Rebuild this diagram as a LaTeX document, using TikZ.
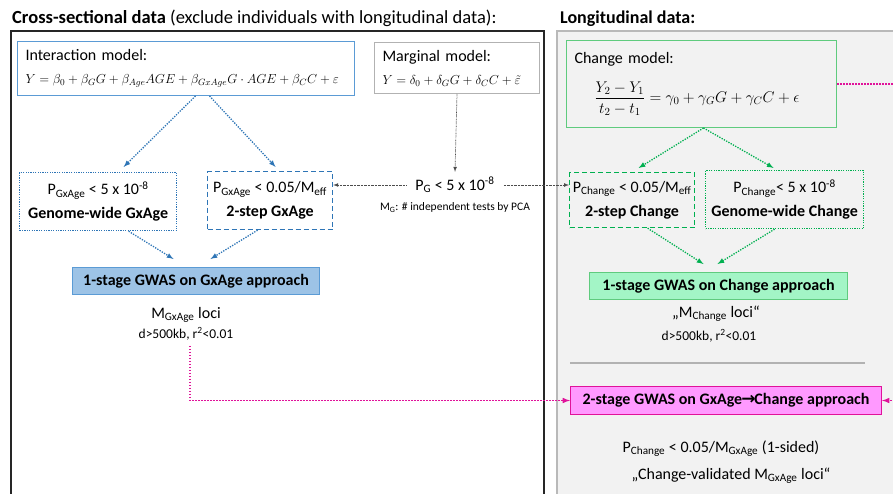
\RequirePackage{fix-cm}
\documentclass[tikz,border=0pt]{standalone}
\usepackage{amsmath}
\usepackage[no-math]{fontspec}
\setmainfont{Carlito}
\newfontfamily\arrowfont{DejaVu Sans}

\definecolor{gxblue}{HTML}{2E75B6}
\definecolor{gxline}{HTML}{5B9BD5}
\definecolor{gxfill}{HTML}{9DC3E6}
\definecolor{chgreen}{HTML}{00B050}
\definecolor{chline}{HTML}{5FCB7E}
\definecolor{chfill}{HTML}{A3F5C6}
\definecolor{twomag}{HTML}{E0139A}
\definecolor{twofill}{HTML}{FF99FF}
\definecolor{panelgray}{HTML}{F2F2F2}

\newcommand{\eqsize}{\fontsize{13}{23}\selectfont}
\newcommand{\chgeqsize}{\fontsize{15.5}{23}\selectfont}

\begin{document}
\begin{tikzpicture}[x=1pt,y=-1pt,>=latex,
    txt/.style={font=\fontsize{16}{23}\selectfont, inner sep=0pt},
    smalltxt/.style={font=\fontsize{13.5}{16}\selectfont, inner sep=0pt},
    modelbox/.style={draw, line width=1pt, anchor=north west, align=left, inner xsep=8pt, inner ysep=0pt, font=\fontsize{16}{23}\selectfont},
    pbox/.style={draw, line width=1.2pt, anchor=north west, align=center, inner sep=0pt, font=\fontsize{16}{24}\selectfont},
    gwasbox/.style={draw, line width=1pt, anchor=north west, inner sep=0pt, font=\fontsize{16}{19}\selectfont\bfseries},
    dotarrow/.style={->, line width=1.3pt, dash pattern=on 1.3pt off 1.3pt},
    thinarrow/.style={->, line width=0.7pt, dash pattern=on 0.7pt off 0.7pt, black!70},
    magarrow/.style={->, line width=1.5pt, dash pattern=on 1.5pt off 1.5pt, twomag}
  ]
  \useasboundingbox (0,0) rectangle (893,494);

  % Panels
  \draw[line width=2pt, black!85] (11,31) rectangle (544,510);
  \draw[line width=2pt, gray!55, fill=panelgray] (557,31) rectangle (910,510);
  \node[anchor=base west, inner sep=0pt, font=\fontsize{18.5}{21}\selectfont] (crosstitle) at (12,24) {\textbf{Cross-sectional data} (exclude individuals with longitudinal data):};
  \node[anchor=base west, inner sep=0pt, font=\fontsize{18}{21}\selectfont\bfseries] (longtitle) at (560,24) {Longitudinal data:};

  % Cross-sectional side
  \node[modelbox, draw=gxline, text width=321pt, minimum height=54pt] (inter) at (17,41) {Interaction model:\\ \eqsize\mbox{$Y=\beta_0+\beta_G G+\beta_{Age}AGE+\beta_{GxAge}G\cdot AGE+\beta_C C+\varepsilon$}};
  \node[modelbox, draw=gray!60, text width=149pt, minimum height=51pt] (marg) at (374,42) {Marginal model:\\ \eqsize\mbox{$Y=\delta_0+\delta_G G+\delta_C C+\tilde{\varepsilon}$}};

  \node[pbox, draw=gxblue, dash pattern=on 1.2pt off 1.2pt, minimum width=157pt, minimum height=58pt] (gwgx) at (19,172) {P\textsubscript{GxAge} < 5 x 10\textsuperscript{-8}\\ \textbf{Genome-wide GxAge}};
  \node[pbox, draw=gxblue, dash pattern=on 5pt off 3pt, minimum width=125pt, minimum height=58pt] (step2gx) at (207,171) {P\textsubscript{GxAge} < 0.05/M\textsubscript{eff}\\ \textbf{2-step GxAge}};
  \node[gwasbox, draw=gxline, fill=gxfill, minimum width=247pt, minimum height=27pt] (stage1gx) at (72,267) {1-stage GWAS on GxAge approach};

  \node[txt, inner xsep=9pt, inner ysep=5pt] (pg) at (455,185) {P\textsubscript{G} < 5 x 10\textsuperscript{-8}};
  \node[anchor=base, inner sep=0pt, font=\fontsize{11.5}{14}\selectfont] (mg) at (455,211) {M\textsubscript{G}: \# independent tests by PCA};

  \node[txt, anchor=base] (gxloci) at (186,318) {M\textsubscript{GxAge} loci};
  \node[smalltxt, anchor=base] (gxld) at (186,338) {d>500kb, r\textsuperscript{2}<0.01};

  % Longitudinal side
  \node[modelbox, draw=chline, text width=254pt, minimum height=87pt] (change) at (566,40) {Change model:\\[14pt] \hspace*{20pt}\chgeqsize\mbox{$\displaystyle\frac{Y_2-Y_1}{t_2-t_1}=\gamma_0+\gamma_G G+\gamma_C C+\epsilon$}};

  \node[pbox, draw=chgreen, dash pattern=on 5pt off 3pt, minimum width=125pt, minimum height=55pt] (step2ch) at (569,172) {P\textsubscript{Change} < 0.05/M\textsubscript{eff}\\ \textbf{2-step Change}};
  \node[pbox, draw=chgreen, dash pattern=on 1.2pt off 1.2pt, minimum width=158pt, minimum height=58pt] (gwch) at (705,170) {P\textsubscript{Change}< 5 x 10\textsuperscript{-8}\\ \textbf{Genome-wide Change}};
  \node[gwasbox, draw=chline, fill=chfill, minimum width=258pt, minimum height=27pt] (stage1ch) at (589,272) {1-stage GWAS on Change approach};

  \node[txt, anchor=base] (chloci) at (716,317) {„M\textsubscript{Change} loci“};
  \node[smalltxt, anchor=base] (chld) at (709,340) {d>500kb, r\textsuperscript{2}<0.01};

  \draw[gray!60, line width=1.3pt] (570,363) -- (865,363);

  \node[gwasbox, draw=twomag, fill=twofill, minimum width=311pt, minimum height=28pt] (stage2) at (570,386) {2-stage GWAS on GxAge{\arrowfont\bfseries\fontsize{17}{19}\selectfont\kern-1pt→\kern-1pt}Change approach};
  \node[txt, anchor=base] (valp) at (721,452) {P\textsubscript{Change} < 0.05/M\textsubscript{GxAge} (1-sided)};
  \node[txt, anchor=base] (valloci) at (731,479) {„Change-validated M\textsubscript{GxAge} loci“};

  % Connectors
  \draw[dotarrow, gxblue] ([xshift=9.5pt]inter.south) -- ([xshift=25.5pt,yshift=5pt]gwgx.north);
  \draw[dotarrow, gxblue] ([xshift=23.5pt]inter.south) -- ([xshift=5.5pt,yshift=4pt]step2gx.north);
  \draw[dotarrow, gxblue] ([xshift=30.5pt]gwgx.south) -- ([xshift=-22.5pt,yshift=8pt]stage1gx.north);
  \draw[dotarrow, gxblue] ([xshift=-12.5pt]step2gx.south) -- ([xshift=14.5pt,yshift=8pt]stage1gx.north);

  \draw[thinarrow] (marg.south) -- (pg.north);
  \draw[thinarrow] (pg.west) -- (pg.west -| step2gx.east);
  \draw[thinarrow] (pg.east) -- (pg.east -| step2ch.west);

  \draw[dotarrow, chgreen] ([xshift=2pt]change.south) -- ([xshift=6.5pt,yshift=4pt]step2ch.north);
  \draw[dotarrow, chgreen] ([xshift=2pt]change.south) -- ([xshift=-11pt,yshift=2pt]gwch.north);
  \draw[dotarrow, chgreen] ([xshift=15.5pt]step2ch.south) -- ([xshift=-15pt,yshift=8pt]stage1ch.north);
  \draw[dotarrow, chgreen] ([xshift=-10pt]gwch.south) -- ([xshift=-1pt,yshift=8pt]stage1ch.north);

  \draw[magarrow] ([xshift=4pt,yshift=-6pt]gxld.south) |- (stage2.west);
  \draw[magarrow] (change.east) -- ++(70,0) |- (stage2.east);
\end{tikzpicture}
\end{document}
